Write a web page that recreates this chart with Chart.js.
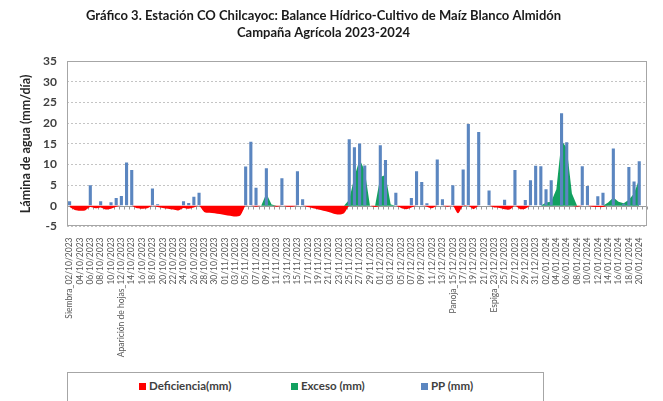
<!DOCTYPE html>
<html lang="es">
<head>
    <meta charset="UTF-8">
    <title>Balance Hídrico - CO Chilcayoc</title>

    <!-- Chart.js -->
    <script src="https://cdn.jsdelivr.net/npm/chart.js"></script>

    <style>
        * {
            margin: 0;
            padding: 0;
            box-sizing: border-box;
        }

        body {
            background: #fff;
            width: 663px;
            height: 401px;
            overflow: hidden;
            font-family: 'Lato', sans-serif;
        }

        .cadre {
            position: relative;
            width: 663px;
            height: 401px;
        }

        canvas {
            display: block;
        }

        /* leyenda abajo, en su recuadro */
        .leyenda {
            position: absolute;
            left: 67px;
            top: 372px;
            width: 477px;
            height: 40px;
            border: 1px solid #a6a6a6;
            background: #fff;
        }
        .item {
            position: absolute;
            top: 6px;
            font-size: 11.5px;
            font-weight: bold;
            color: #404040;
            white-space: nowrap;
        }
        .item span {
            display: inline-block;
            width: 7px;
            height: 7px;
            margin-right: 3px;
        }
    </style>
</head>
<body>
    <div class="cadre">
        <canvas id="graficoBalance" width="663" height="401"></canvas>

        <div class="leyenda">
            <div class="item" style="left:71px"><span style="background:#ff0000"></span>Deficiencia(mm)</div>
            <div class="item" style="left:223px"><span style="background:#12a060"></span>Exceso (mm)</div>
            <div class="item" style="left:353px"><span style="background:#5b86c0"></span>PP (mm)</div>
        </div>
    </div>

    <script>
        // Fechas diarias (02/10/2023 - 21/01/2024), con las fases fenológicas
        const fechas = [
            'Siembra_02/10/2023', '03/10/2023', '04/10/2023', '05/10/2023', '06/10/2023', '07/10/2023', '08/10/2023', '09/10/2023', '10/10/2023', '11/10/2023',
            'Aparición de hojas_12/10/2023', '13/10/2023', '14/10/2023', '15/10/2023', '16/10/2023', '17/10/2023', '18/10/2023', '19/10/2023', '20/10/2023', '21/10/2023',
            '22/10/2023', '23/10/2023', '24/10/2023', '25/10/2023', '26/10/2023', '27/10/2023', '28/10/2023', '29/10/2023', '30/10/2023', '31/10/2023',
            '01/11/2023', '02/11/2023', '03/11/2023', '04/11/2023', '05/11/2023', '06/11/2023', '07/11/2023', '08/11/2023', '09/11/2023', '10/11/2023',
            '11/11/2023', '12/11/2023', '13/11/2023', '14/11/2023', '15/11/2023', '16/11/2023', '17/11/2023', '18/11/2023', '19/11/2023', '20/11/2023',
            '21/11/2023', '22/11/2023', '23/11/2023', '24/11/2023', '25/11/2023', '26/11/2023', '27/11/2023', '28/11/2023', '29/11/2023', '30/11/2023',
            '01/12/2023', '02/12/2023', '03/12/2023', '04/12/2023', '05/12/2023', '06/12/2023', '07/12/2023', '08/12/2023', '09/12/2023', '10/12/2023',
            '11/12/2023', '12/12/2023', '13/12/2023', '14/12/2023', 'Panoja_15/12/2023', '16/12/2023', '17/12/2023', '18/12/2023', '19/12/2023', '20/12/2023',
            '21/12/2023', '22/12/2023', 'Espiga_23/12/2023', '24/12/2023', '25/12/2023', '26/12/2023', '27/12/2023', '28/12/2023', '29/12/2023', '30/12/2023',
            '31/12/2023', '01/01/2024', '02/01/2024', '03/01/2024', '04/01/2024', '05/01/2024', '06/01/2024', '07/01/2024', '08/01/2024', '09/01/2024',
            '10/01/2024', '11/01/2024', '12/01/2024', '13/01/2024', '14/01/2024', '15/01/2024', '16/01/2024', '17/01/2024', '18/01/2024', '19/01/2024',
            '20/01/2024', '21/01/2024'
        ];

        // Precipitación diaria (mm)
        const pp = [
            1.1, 0, 0, 0, 5.0, 0, 1.1, 0, 0.9, 1.9,
            2.4, 10.5, 8.7, 0, 0, 0, 4.2, 0.4, 0, 0,
            0, 0, 1.1, 0.7, 2.2, 3.2, 0, 0, 0, 0,
            0, 0, 0, 0, 9.5, 15.5, 4.4, 0, 9.1, 0,
            0, 6.7, 0, 0, 8.4, 1.6, 0, 0, 0, 0,
            0, 0, 0, 0, 16.1, 14.2, 15.1, 9.8, 0, 0,
            14.7, 11.1, 0, 3.2, 0, 0, 1.9, 8.4, 5.8, 0.6,
            0, 11.2, 1.6, 0, 5.0, 0, 8.8, 19.8, 0, 17.9,
            0, 3.7, 0, 0, 1.5, 0, 8.7, 0, 1.4, 6.2,
            9.7, 9.6, 4.0, 6.2, 0, 22.4, 15.4, 0, 0, 9.6,
            4.8, 0, 2.3, 3.2, 0, 13.9, 0, 0.5, 9.4, 5.9,
            10.8, null
        ];

        // Exceso (mm)
        const exceso = [
            0, 0, 0, 0, 0, 0, 0, 0, 0, 0,
            0, 0, 0, 0, 0, 0, 0, 0, 0, 0,
            0, 0, 0, 0, 0, 0, 0, 0, 0, 0,
            0, 0, 0, 0, 0, 0, 0, 0, 3.0, 0.3,
            0, 0, 0, 0, 0, 0, 0, 0, 0, 0,
            0, 0, 0, 0, 1.5, 7.0, 11.3, 8.5, 0, 0,
            7.0, 7.5, 0.3, 0, 0, 0, 0, 0, 0, 0,
            0, 0, 0, 0, 0, 0, 0, 0, 0, 0,
            0, 0, 0, 0, 0, 0, 0, 0, 0, 0,
            0, 0, 0.8, 1.0, 4.0, 15.8, 14.0, 3.0, 0, 0,
            0, 0, 0, 0, 0.8, 2.0, 1.0, 0.6, 1.5, 3.0,
            6.5, null
        ];

        // Deficiencia (mm)
        const deficiencia = [
            -0.3, -1.0, -1.2, -1.1, -0.3, -0.6, -0.4, -0.9, -0.7, -0.2,
            0, 0, 0, -0.6, -0.7, -0.6, 0, -0.3, -0.5, -0.7,
            -0.9, -1.1, -0.5, -0.7, -0.4, 0, -1.5, -1.7, -1.8, -2.0,
            -2.2, -2.4, -2.6, -2.3, 0, 0, -0.2, 0, 0, 0,
            -0.2, 0, -0.2, -0.2, 0, 0, -0.3, -0.6, -0.9, -1.2,
            -1.5, -1.9, -2.1, -1.8, 0, 0, 0, 0, 0, -0.3,
            0, 0, 0, 0, -0.5, -0.8, -0.4, 0, 0, -0.2,
            -0.6, 0, 0, -0.2, 0, -1.8, 0, 0, -0.8, 0,
            0, 0, -0.4, -0.5, -0.8, -0.9, 0, -0.8, -0.7, 0,
            0, 0, 0, 0, 0, 0, 0, 0, -0.2, 0,
            0, -0.2, -0.3, -0.3, 0, 0, 0, 0, 0, 0,
            0, null
        ];

        const ejeY = [-5, 35, 5];

        // marco del área de trazado + línea del cero
        const marcoPlot = {
            id: 'marcoPlot',
            beforeDatasetsDraw(chart) {
                const { ctx, chartArea: a, scales: { y } } = chart;
                const y0 = Math.round(y.getPixelForValue(0)) + 0.5;
                ctx.save();
                ctx.strokeStyle = '#9a9a9a';
                ctx.lineWidth = 1;
                ctx.beginPath();
                ctx.moveTo(a.left, y0);
                ctx.lineTo(a.right, y0);
                const paso = a.width / fechas.length;
                for (let i = 0; i <= fechas.length; i++) {
                    const px = Math.round(a.left + i * paso) + 0.5;
                    ctx.moveTo(px, y0);
                    ctx.lineTo(px, y0 + 3);
                }
                ctx.stroke();
                ctx.restore();
            },
            afterDraw(chart) {
                const { ctx, chartArea: a } = chart;
                ctx.save();
                ctx.strokeStyle = '#a6a6a6';
                ctx.lineWidth = 1;
                ctx.strokeRect(Math.round(a.left) + 0.5, Math.round(a.top) + 0.5,
                               Math.round(a.width) - 1, Math.round(a.height) - 1);
                ctx.restore();
            }
        };

        const ctx1 = document.getElementById('graficoBalance').getContext('2d');
        new Chart(ctx1, {
            data: {
                labels: fechas,
                datasets: [
                    {
                        type: 'bar',
                        label: 'PP (mm)',
                        data: pp,
                        backgroundColor: '#5b86c0',
                        barPercentage: 0.6,
                        categoryPercentage: 1,
                        order: 0
                    },
                    {
                        type: 'line',
                        label: 'Exceso (mm)',
                        data: exceso,
                        backgroundColor: '#12a060',
                        borderColor: '#12a060',
                        borderWidth: 0,
                        pointRadius: 0,
                        tension: 0,
                        fill: 'origin',
                        order: 1
                    },
                    {
                        type: 'line',
                        label: 'Deficiencia(mm)',
                        data: deficiencia,
                        backgroundColor: '#ff0000',
                        borderColor: '#ff0000',
                        borderWidth: 0,
                        pointRadius: 0,
                        tension: 0.3,
                        fill: 'origin',
                        order: 2
                    }
                ]
            },
            options: {
                responsive: false,
                animation: false,
                layout: {
                    padding: { right: 16 }
                },
                plugins: {
                    legend: { display: false },
                    tooltip: { enabled: false },
                    title: {
                        display: true,
                        text: ['Gráfico 3. Estación CO Chilcayoc: Balance Hídrico-Cultivo de Maíz Blanco Almidón',
                               'Campaña Agrícola 2023-2024'],
                        color: '#1a1a1a',
                        font: { family: 'Lato', size: 13, weight: 'bold', lineHeight: 1.32 },
                        padding: { top: 7, bottom: 20 }
                    }
                },
                scales: {
                    x: {
                        offset: true,
                        grid: { display: false },
                        border: { display: false },
                        ticks: {
                            autoSkip: false,
                            minRotation: 90,
                            maxRotation: 90,
                            padding: 3,
                            color: '#595959',
                            font: { family: 'Lato', size: 8.5 },
                            callback: function (v, i) {
                                return i % 2 === 0 ? this.getLabelForValue(v) : '';
                            }
                        },
                        afterFit(s) { s.height = 401 - 226.5; }
                    },
                    y: {
                        min: ejeY[0],
                        max: ejeY[1],
                        ticks: {
                            stepSize: ejeY[2],
                            padding: 10,
                            color: '#404040',
                            font: { family: 'Lato', size: 12, weight: 'bold' }
                        },
                        grid: {
                            drawTicks: false,
                            color: c => c.tick.value === 0 ? 'rgba(0,0,0,0)' : '#c4c4c4'
                        },
                        border: { display: false, dash: [2, 2] },
                        title: {
                            display: true,
                            text: 'Lámina de agua (mm/día)',
                            color: '#262626',
                            font: { family: 'Lato', size: 12.5, weight: 'bold' },
                            padding: { top: 18, bottom: 0 }
                        },
                        afterFit(s) { s.width = 67; }
                    }
                }
            },
            plugins: [marcoPlot]
        });
    </script>
</body>
</html>
